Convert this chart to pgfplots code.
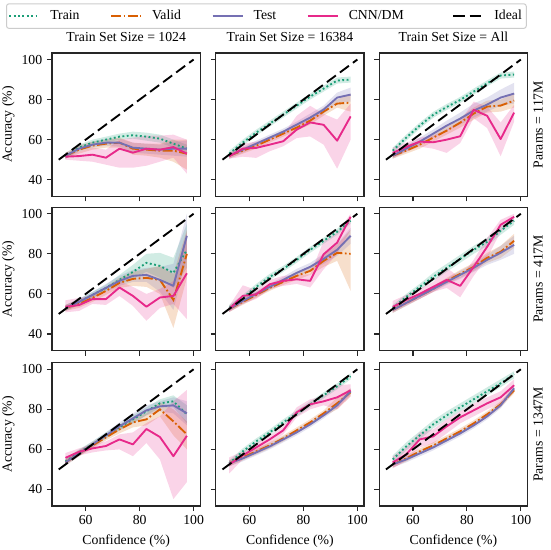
\documentclass[border=0pt]{standalone}
\usepackage{fontspec}
\setmainfont{Liberation Serif}
\usepackage{pgfplots}
\pgfplotsset{compat=1.18}
\usepackage{pgfplotstable}
\usepgfplotslibrary{fillbetween}

\definecolor{ctr}{HTML}{1B9E77}
\definecolor{cva}{HTML}{D95F02}
\definecolor{cte}{HTML}{7570B3}
\definecolor{ccn}{HTML}{E7298A}
\definecolor{frm}{HTML}{262626}

% columns: mean / low / high for train, valid, test, cnn/dm
\pgfplotstableread{
x    trm  trl  trh   vam  val  vah   tem  tel  teh   cnm  cnl  cnh
52.5 51.5 50.5 52.5  52   50.5 53.5  52   50.5 53.5  51.5 50   53
57.5 56   54.5 57.5  55   53   57    55.5 54   57    51.8 49.5 54
62.5 58.5 57   60    57   55   59    57.5 56   59    52.5 49   56
67.5 60   58.5 61.5  58   56   60    58.5 57   60.5  51   47.5 55
72.5 61.5 60   63    58.5 56   61    58.5 56.5 60.5  55.5 46   60
77.5 62.2 60.5 64    55.5 52.5 58.5  56   53.5 58.5  53.5 46   61
82.5 61.5 59.5 63.5  55   52   58    55.5 53   58    55.5 47   62
87.5 60.5 58.5 62.5  54.5 51   58    55   52.5 57.5  55   49   62
92.5 58   56   60    54.5 49   60    55.5 52   59    56.3 51   62.5
97.5 55.5 53.5 57.5  53   45   60    55.5 51.5 59.5  53   43   60
}\tA
\pgfplotstableread{
x    trm  trl  trh   vam  val  vah   tem  tel  teh   cnm  cnl  cnh
52.5 53   51.5 54.5  52   50.5 53.5  52   50.5 53.5  51.7 50.5 53
57.5 58.5 57   60    54.5 53   56    55   53.5 56.5  55.5 51.5 58
62.5 63.5 62   65    57   55.5 58.5  58   56.5 59.5  55.9 50.9 59
67.5 68   66.5 69.5  60   58.5 61.5  61   59.5 62.5  57.5 54.2 60.5
72.5 72.5 71   74    63   61.5 64.5  64   62.5 65.5  59.2 56.7 62.5
77.5 77   75.5 78.5  66   64.5 67.5  67.5 66   69    65   60.8 71.9
82.5 81.5 80   83    69.5 67.5 71.5  71   69   73    68.6 61.6 76.9
87.5 85.5 84   87    74   72   76    75   73   77    67.4 57.5 72.9
92.5 89.5 88   91    78   76   80    81   78.5 83.5  59.5 45.5 70
97.5 90   88.5 91.5  78.5 74   83    82.5 79   86    71.6 60   78
}\tB
\pgfplotstableread{
x    trm  trl  trh   vam  val  vah   tem  tel  teh   cnm  cnl  cnh
52.5 54.5 53   56    52   50.5 53.5  52   50.5 53.5  53.4 51   56
57.5 61   59.5 62.5  54.5 53   56    55.5 54   57    56.4 54   58.5
62.5 67   65.5 68.5  57.5 55.5 59.5  59   57   61    59   56.5 61
67.5 72.4 70.9 73.9  61   59   63    63   61   65    58.7 55.5 62
72.5 76.3 74.8 77.8  64.5 62.5 66.5  67   64.5 69.5  60   53.4 65
77.5 79.8 78.3 81.3  68.5 66   71    70.5 67.5 73.5  61.7 58.3 69
82.5 84   82.5 85.5  73   70   76    74.5 71   78    74.9 70.7 79
87.5 88.1 86.6 89.6  76.5 73.5 79.5  77.5 74   81    71.9 65.8 76.5
92.5 92   90.5 93.5  77   74   80    81   77   85    60.3 51.7 68.6
97.5 92.5 91   94    79.5 76   83    83   78   88.4  73.5 69   77.4
}\tC
\pgfplotstableread{
x    trm  trl  trh   vam  val  vah   tem  tel  teh   cnm  cnl  cnh
52.5 53   51.5 54.5  53   51.5 54.5  53   51.5 54.5  53.6 50.8 56.8
57.5 56   54.5 57.5  55   53   57    56   54.5 57.5  54.4 51.5 58
62.5 59.5 58   61    58   56   60    59.5 58   61    57.4 55   59
67.5 63   61.5 64.5  61.5 59.5 63.5  63   61   65    57.4 54.5 61
72.5 67   65   69.5  65.5 63   68    66.5 64   69    63.2 59   66.4
77.5 71   67.5 74.5  67.5 64   71    69   66   72    59   54   63.5
82.5 75.5 71   80    68   63.5 72.5  69.5 66   73    53.6 46.6 60
87.5 74   68   80.5  67   60   74    67   61   73.5  58.2 53   62.5
92.5 70.5 63   78    57   43   70    64   52   75    59   55   66.4
97.5 82   73   95    80   68   92    89   78   100   70.3 47.4 90.5
}\tD
\pgfplotstableread{
x    trm  trl  trh   vam  val  vah   tem  tel  teh   cnm  cnl  cnh
52.5 53   51.5 54.5  52.5 51   54    52.5 51   54    52.4 51   54
57.5 58   56.5 59.5  56   54.5 57.5  56.5 55   58    59   55   64.3
62.5 63.5 62   65    59.5 58   61    60   58.5 61.5  59.8 57.5 62
67.5 68.5 67   70    63   61.5 64.5  63.5 62   65    64.8 62.5 67
72.5 72.5 71   74    66   64.5 67.5  67   65.5 68.5  66.5 64   69
77.5 77   75.5 78.5  69   67   71    70.5 68.5 72.5  67.3 65   69.5
82.5 82   80.5 83.5  71.5 69.5 73.5  73.5 71.5 75.5  66.5 63.2 69.8
87.5 86.5 85   88    76.5 73.5 79.5  77.5 75   80    79.8 72.3 86.4
92.5 91   89.5 92.5  80.5 76.5 84.5  82   79   85    85.6 80   90.5
97.5 96.5 95   98    80   61.5 92    89   85   93    98.5 92   100
}\tE
\pgfplotstableread{
x    trm  trl  trh   vam  val  vah   tem  tel  teh   cnm  cnl  cnh
52.5 53   51.5 54.5  52   50.5 53.5  52   50.5 53.5  53.5 51   56.5
57.5 58.5 57   60    55.5 54   57    55.5 54   57    57   54.5 59.5
62.5 63.5 62   65    59   57.5 60.5  59   57.5 60.5  60   57.5 62.5
67.5 68.5 66.5 70.5  62.5 61   64    62.5 61   64    63.5 61   66
72.5 73   71   75    66.5 65   68    66   64.5 67.5  67   63   73
77.5 77.5 75.5 79.5  70   68   72    69.5 67.5 71.5  64   58.3 68
82.5 82   80   84    73.5 71.5 75.5  73   71   75    73.5 69   77
87.5 86   84   88    78   75.5 80.5  77   74.5 79.5  83.5 78   88
92.5 91.5 89.5 93.5  81   78   84    80.5 77   84    94.5 91   97
97.5 96.5 94.5 98.5  86.5 83   90    84.5 80   89    98.5 96.5 100
}\tF
\pgfplotstableread{
x    trm  trl  trh   vam  val  vah   tem  tel  teh   cnm  cnl  cnh
52.5 54   52.5 55.5  53.5 52   55    53.5 52   55    55.8 52.5 58.2
57.5 58.5 57   60    58   56.5 59.5  58   56.5 59.5  58.8 57   60.5
62.5 62.5 61   64    62   60.5 63.5  62.5 61   64    60.5 58.5 62.5
67.5 67   65.5 68.5  66   64.5 67.5  67   65.5 68.5  61.7 59.5 64
72.5 71   69.5 72.5  70   68   72    71.5 69.5 73.5  65   60   67.5
77.5 75   73   77    73.5 71   76    75.5 73   78    62.5 56.6 68.5
82.5 79   77   81    75   72   78    79.5 77   82    70.2 63.2 73.2
87.5 83   81   85    80   76.5 83.5  81.5 79   84    66.2 55   76.5
92.5 84   81   87    74   67   80    82   78   86    56.6 35.2 84
97.5 77.5 73   82    67.5 60   74    78   72   84    66.8 43.7 89.7
}\tG
\pgfplotstableread{
x    trm  trl  trh   vam  val  vah   tem  tel  teh   cnm  cnl  cnh
52.5 53   51.5 54.5  53   51.5 54.5  53   51.5 54.5  52.5 48   56
57.5 59   57.5 60.5  56   54.5 57.5  55.5 54   57    57   55   59
62.5 64   62.5 65.5  59   57.5 60.5  58.5 57   60    61   59   63
67.5 68.5 67   70    62   60.5 63.5  61.5 60   63    65   63   67
72.5 73.5 72   75    65.5 64   67    65   63.5 66.5  69.5 67.5 71.5
77.5 78   76.5 79.5  69.5 68   71    68.5 67   70    78.5 76   81
82.5 82.5 81   84    73.5 72   75    72.5 71   74    82.5 80   85
87.5 87   85.5 88.5  78   76.5 79.5  77   75.5 78.5  84   82   86.5
92.5 91.5 90   93    83   80   86    82   80.5 83.5  86   80   92
97.5 96.5 95   98    88.5 86.5 90.5  89   87.5 90.5  89.5 86.5 92.5
}\tH
\pgfplotstableread{
x    trm  trl  trh   vam  val  vah   tem  tel  teh   cnm  cnl  cnh
52.5 55   53   57    52.5 51   54    52.5 51   54    53.5 50.5 56.5
57.5 61.5 59.5 63.5  55.5 54   57    55   53.5 56.5  57.5 54.5 61
62.5 67   65   69    59   57.5 60.5  58   56.5 59.5  65   61   68.5
67.5 72.5 70.5 74.5  62   60.5 63.5  61   59.5 62.5  66.5 63   70
72.5 77   75   79    65.5 64   67    64.5 63   66    71.5 68   75
77.5 81   79   83    69   67.5 70.5  68   66.5 69.5  76   73   79
82.5 85   83   87    73   71.5 74.5  72   70.5 73.5  79.5 76.5 83
87.5 89   87   91    77.5 76   79    76.5 75   78    83   80   86
92.5 93   91   95    82.5 81   84    82   80.5 83.5  86   83   89
97.5 97.5 95.5 99    89.5 88   91    90.5 89   92    92   89   95
}\tI

\pgfplotsset{
  sTr/.style={ctr, line width=1.5pt, dash pattern=on 1.5pt off 2pt},
  sVa/.style={cva, line width=1.5pt, dash pattern=on 8pt off 2pt on 1.4pt off 2pt},
  sTe/.style={cte, line width=1.5pt, line join=round},
  sCn/.style={ccn, line width=1.5pt, line join=round},
  sId/.style={black, line width=1.5pt, dash pattern=on 9pt off 4pt},
  panel/.style={
    scale only axis, width=118.7pt, height=114.6pt, anchor=north west,
    xmin=47.5, xmax=102.5, ymin=31.75, ymax=103.25,
    xtick={60,80,100}, ytick={40,60,80,100},
    tick align=outside, tick pos=left, major tick length=4pt,
    axis line style={draw=frm, line width=1pt},
    every tick/.style={frm, line width=0.9pt},
    /pgf/number format/assume math mode=true,
    ylabel shift=-2pt,
    title style={yshift=-1pt},
    legend image code/.code={\draw[##1] (0pt,0pt) -- (24pt,0pt);},
  },
}

\newcommand{\band}[4]{%
  \addplot[name path=#2, draw=none, forget plot] table[x=x,y=#2]{#1};
  \addplot[name path=#3, draw=none, forget plot] table[x=x,y=#3]{#1};
  \addplot[fill=#4, fill opacity=0.2, draw=none, forget plot] fill between[of=#2 and #3];
}
\newcommand{\panel}[1]{%
  \band{#1}{trl}{trh}{ctr}
  \addplot[sTr] table[x=x,y=trm]{#1};
  \band{#1}{val}{vah}{cva}
  \addplot[sVa] table[x=x,y=vam]{#1};
  \band{#1}{tel}{teh}{cte}
  \addplot[sTe] table[x=x,y=tem]{#1};
  \band{#1}{cnl}{cnh}{ccn}
  \addplot[sCn] table[x=x,y=cnm]{#1};
  \addplot[sId] coordinates {(50,50) (100,100)};
}
\newcommand{\lead}{\hspace*{6pt}}
\newcommand{\gap}{\hspace*{22.5pt}}

\begin{document}
\fontsize{11}{13.6}\selectfont
\begin{tikzpicture}

% row 1
\begin{axis}[panel, name=a11, at={(41.6pt,-42.4pt)},
  title={Train Set Size = 1024}, ylabel={Accuracy (\%)}, xticklabels={},
  legend columns=5,
  legend style={at={(-0.310,1.347)}, anchor=north west,
    draw=black!20, rounded corners=2pt, line width=0.8pt,
    inner xsep=1.5pt, inner ysep=3.2pt},
  legend cell align=left]
\panel{\tA}
\legend{\lead Train\gap,\lead Valid\gap,\lead Test\gap,\lead CNN/DM\hspace*{37pt},\lead Ideal}
\end{axis}
\begin{axis}[panel, name=a12, at={(172.6pt,-42.4pt)},
  title={Train Set Size = 16384}, xticklabels={}, yticklabels={}]
\panel{\tB}
\end{axis}
\begin{axis}[panel, name=a13, at={(303.4pt,-42.4pt)},
  title={Train Set Size = All}, xticklabels={}, yticklabels={}]
\panel{\tC}
\end{axis}

% row 2
\begin{axis}[panel, name=a21, at={(41.6pt,-165.8pt)},
  ylabel={Accuracy (\%)}, xticklabels={}]
\panel{\tD}
\end{axis}
\begin{axis}[panel, name=a22, at={(172.6pt,-165.8pt)},
  xticklabels={}, yticklabels={}]
\panel{\tE}
\end{axis}
\begin{axis}[panel, name=a23, at={(303.4pt,-165.8pt)},
  xticklabels={}, yticklabels={}]
\panel{\tF}
\end{axis}

% row 3
\begin{axis}[panel, name=a31, at={(41.6pt,-290.2pt)},
  ylabel={Accuracy (\%)}, xlabel={Confidence (\%)}]
\panel{\tG}
\end{axis}
\begin{axis}[panel, name=a32, at={(172.6pt,-290.2pt)},
  xlabel={Confidence (\%)}, yticklabels={}]
\panel{\tH}
\end{axis}
\begin{axis}[panel, name=a33, at={(303.4pt,-290.2pt)},
  xlabel={Confidence (\%)}, yticklabels={}]
\panel{\tI}
\end{axis}

\node[rotate=90, anchor=north, inner sep=0pt] at ([xshift=4.5pt]a13.east) {Params = 117M};
\node[rotate=90, anchor=north, inner sep=0pt] at ([xshift=4.5pt]a23.east) {Params = 417M};
\node[rotate=90, anchor=north, inner sep=0pt] at ([xshift=4.5pt]a33.east) {Params = 1347M};

\pgfresetboundingbox
\useasboundingbox (0,0) rectangle (440pt,-440pt);
\end{tikzpicture}
\end{document}
